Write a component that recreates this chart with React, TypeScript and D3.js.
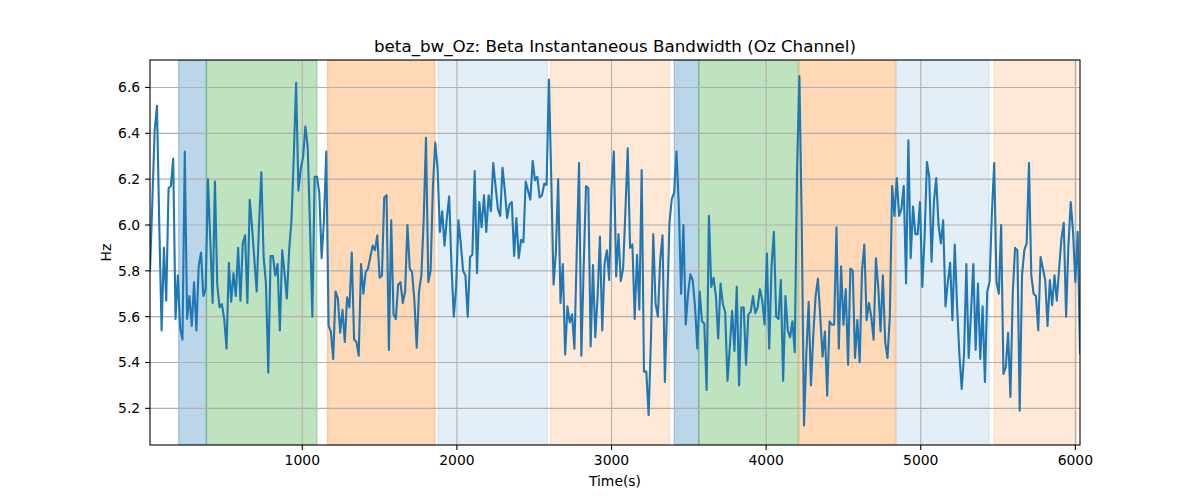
import * as d3 from "d3";

// beta bandwidth samples, one every 15 s starting at t = 15 s
const startTime = 15;
const sampleStep = 15;
const bandwidthHz = [
  5.80, 6.10, 6.41, 6.52, 6.00, 5.54, 5.90, 5.67, 6.16, 6.17,
  6.29, 5.59, 5.78, 5.55, 5.50, 6.32, 5.59, 5.69, 5.56, 5.75,
  5.54, 5.82, 5.88, 5.69, 5.72, 6.20, 5.93, 5.66, 6.19, 5.74,
  5.64, 5.655, 5.59, 5.46, 5.835, 5.665, 5.79, 5.69, 5.90, 5.67,
  5.92, 5.955, 5.66, 6.11, 5.99, 5.85, 5.71, 6.00, 6.23, 5.86,
  5.745, 5.355,
  5.865, 5.865, 5.78, 5.83, 5.54, 5.89, 5.79, 5.68, 5.89, 6.02,
  6.30, 6.62, 6.15, 6.245, 6.295, 6.43, 6.34, 5.99, 5.60, 6.21,
  6.21, 6.14, 5.855, 6.02, 6.32, 5.56, 5.535, 5.415, 5.71, 5.68,
  5.53, 5.63, 5.49, 5.685, 5.64, 5.88, 5.50, 5.49, 5.43, 5.83,
  5.70, 5.795, 5.81, 5.86, 5.91, 5.89, 5.955, 5.77, 5.78, 6.12,
  6.13, 5.455,
  6.02, 5.61, 5.59, 5.74, 5.75, 5.66, 5.71, 6.00, 5.81, 5.795,
  5.67, 5.465, 5.71, 5.78, 6.02, 6.38, 5.75, 5.80, 6.17, 6.36,
  6.245, 5.97, 6.06, 5.91, 6.03, 6.125, 5.82, 5.60, 5.73, 6.02,
  5.92, 5.80, 5.78, 5.60, 5.86, 5.87, 6.235, 5.79, 6.10, 5.99,
  6.13, 5.97, 6.13, 6.06, 6.27, 6.17, 6.07, 6.04, 6.25, 6.15,
  6.03, 6.09,
  6.10, 5.865, 6.03, 5.855, 5.935, 5.925, 6.19, 6.15, 6.11, 6.28,
  6.195, 6.21, 6.12, 6.13, 6.18, 6.175, 6.635, 6.21, 5.74, 5.88,
  6.20, 5.66, 5.83, 5.435, 5.645, 5.575, 5.61, 5.46, 5.88, 6.27,
  5.43, 5.82, 6.17, 6.16, 5.47, 5.825, 5.51, 5.69, 5.95, 5.54,
  5.83, 5.89, 5.76, 6.165, 6.32, 5.775, 5.96, 5.755, 5.81, 6.065,
  6.335, 5.90,
  5.915, 5.59, 5.87, 5.63, 6.24, 5.36, 5.36, 5.17, 5.50, 5.96,
  5.655, 5.60, 5.85, 5.955, 5.315, 5.66, 6.01, 6.115, 6.14, 6.32,
  6.09, 5.70, 6.00, 5.565, 5.70, 5.785, 5.76, 5.645, 5.46, 5.71,
  5.58, 5.57, 5.28, 6.04, 5.73, 5.77, 5.69, 5.505, 5.745, 5.655,
  5.62, 5.32, 5.465, 5.625, 5.45, 5.73, 5.30, 5.64, 5.64, 5.39,
  5.61,
  5.62, 5.69, 5.615, 5.64, 5.72, 5.67, 5.565, 5.875, 5.46, 5.82,
  5.97, 5.60, 5.59, 5.76, 5.32, 5.69, 5.54, 5.51, 5.58, 5.445,
  6.24, 6.65, 6.02, 5.125, 5.435, 5.665, 5.30, 5.52, 5.69, 5.765,
  5.60, 5.425, 5.535, 5.255, 5.58, 5.565, 5.565, 5.99, 5.46, 5.82,
  5.565, 5.72, 5.39, 5.81, 5.80, 5.42, 5.585, 5.40, 5.80, 5.915,
  5.585, 5.66, 5.60, 5.50, 5.855, 5.73, 5.535, 5.78, 5.49, 5.42,
  5.60, 6.17, 6.04, 6.205, 6.04, 6.07, 6.17, 5.745, 6.37, 5.855,
  6.08, 5.96, 5.96, 6.10, 5.73, 5.95, 6.275, 6.21, 5.84, 6.10,
  6.205, 6.00, 5.92, 6.02, 5.645, 5.75, 5.835, 5.585, 5.915, 5.645,
  5.435, 5.285, 5.435, 5.83, 5.42, 5.615, 5.83, 5.455, 5.745, 5.415,
  5.645, 5.315, 5.71, 5.75, 6.05, 6.27,
  5.75, 5.70, 6.00, 5.35, 5.38, 5.53, 5.25, 5.70, 5.90, 5.89,
  5.19, 5.78, 5.89, 5.92, 6.27, 5.78, 5.70, 5.69, 5.54, 5.86,
  5.81, 5.76, 5.56, 5.76, 5.65, 5.78, 5.67, 5.81, 5.94, 6.01,
  5.60, 5.91, 6.10, 5.97, 5.75, 5.97, 5.44,
];

// shaded stage windows (seconds)
const spanStarts = [200, 380, 1163, 1880, 2605, 3406, 3564, 4214, 4842, 5476];
const spanEnds = [380, 1094, 1858, 2585, 3374, 3564, 4208, 4836, 5442, 6010];
const spanKinds = ["blue", "green", "orange", "paleBlue", "paleOrange", "blue", "green", "orange", "paleBlue", "paleOrange"];

const xTicks = [1000, 2000, 3000, 4000, 5000, 6000];
const yTicks = [5.2, 5.4, 5.6, 5.8, 6.0, 6.2, 6.4, 6.6];

const spanFill: Record<string, [string, number]> = {
  blue: ["#1f77b4", 0.3],
  green: ["#2ca02c", 0.3],
  orange: ["#ff7f0e", 0.3],
  paleBlue: ["#1f77b4", 0.12],
  paleOrange: ["#ff7f0e", 0.17],
};

const W = 1200;
const H = 500;
const margin = { top: 60, right: 120, bottom: 55, left: 150 };
const font = "DejaVu Sans, sans-serif";

export default function App() {
  const innerW = W - margin.left - margin.right;
  const innerH = H - margin.top - margin.bottom;

  const times = bandwidthHz.map((_, i) => startTime + i * sampleStep);
  const x = d3.scaleLinear().domain([times[0], times[times.length - 1]]).range([0, innerW]);
  const y = d3.scaleLinear().domain([5.04, 6.72]).range([innerH, 0]);

  const line = d3
    .line<number>()
    .x((_, i) => x(times[i]))
    .y((d) => y(d));

  const tickLen = 4.9;

  return (
    <svg
      width={W}
      height={H}
      style={{ position: "absolute", left: 0, top: 0, background: "#fff" }}
      fontFamily={font}
    >
      <text x={margin.left + innerW / 2} y={margin.top - 8.5} textAnchor="middle" fontSize={16.7} fill="#000">
        beta_bw_Oz: Beta Instantaneous Bandwidth (Oz Channel)
      </text>
      <g transform={`translate(${margin.left},${margin.top})`}>
        <defs>
          <clipPath id="plot-clip">
            <rect x={0} y={0} width={innerW} height={innerH} />
          </clipPath>
        </defs>
        <g clipPath="url(#plot-clip)">
          {spanStarts.map((s, i) => {
            const [c, a] = spanFill[spanKinds[i]];
            return (
              <rect
                key={i}
                x={x(s)}
                y={0}
                width={x(spanEnds[i]) - x(s)}
                height={innerH}
                fill={c}
                fillOpacity={a}
                stroke={c}
                strokeOpacity={a}
                strokeWidth={1.4}
              />
            );
          })}
          {xTicks.map((t) => (
            <line key={t} x1={x(t)} x2={x(t)} y1={0} y2={innerH} stroke="#b0b0b0" strokeWidth={1.1} />
          ))}
          {yTicks.map((t) => (
            <line key={t} x1={0} x2={innerW} y1={y(t)} y2={y(t)} stroke="#b0b0b0" strokeWidth={1.1} />
          ))}
          <path
            d={line(bandwidthHz) ?? ""}
            fill="none"
            stroke="#1f77b4"
            strokeWidth={2.1}
            strokeLinejoin="round"
            strokeLinecap="square"
          />
        </g>
        <rect x={0} y={0} width={innerW} height={innerH} fill="none" stroke="#000" strokeWidth={1.1} />
        {xTicks.map((t) => (
          <g key={t} transform={`translate(${x(t)},${innerH})`}>
            <line y1={0} y2={tickLen} stroke="#000" strokeWidth={1.1} />
            <text y={tickLen + 15.2} textAnchor="middle" fontSize={13.9} fill="#000">
              {t}
            </text>
          </g>
        ))}
        {yTicks.map((t) => (
          <g key={t} transform={`translate(0,${y(t)})`}>
            <line x1={0} x2={-tickLen} stroke="#000" strokeWidth={1.1} />
            <text x={-tickLen - 4.9} dy="0.35em" textAnchor="end" fontSize={13.9} fill="#000">
              {d3.format(".1f")(t)}
            </text>
          </g>
        ))}
        <text x={innerW / 2} y={innerH + 41} textAnchor="middle" fontSize={13.9} fill="#000">
          Time(s)
        </text>
        <text
          transform={`translate(${-39},${innerH / 2}) rotate(-90)`}
          textAnchor="middle"
          fontSize={13.9}
          fill="#000"
        >
          Hz
        </text>
      </g>
    </svg>
  );
}
